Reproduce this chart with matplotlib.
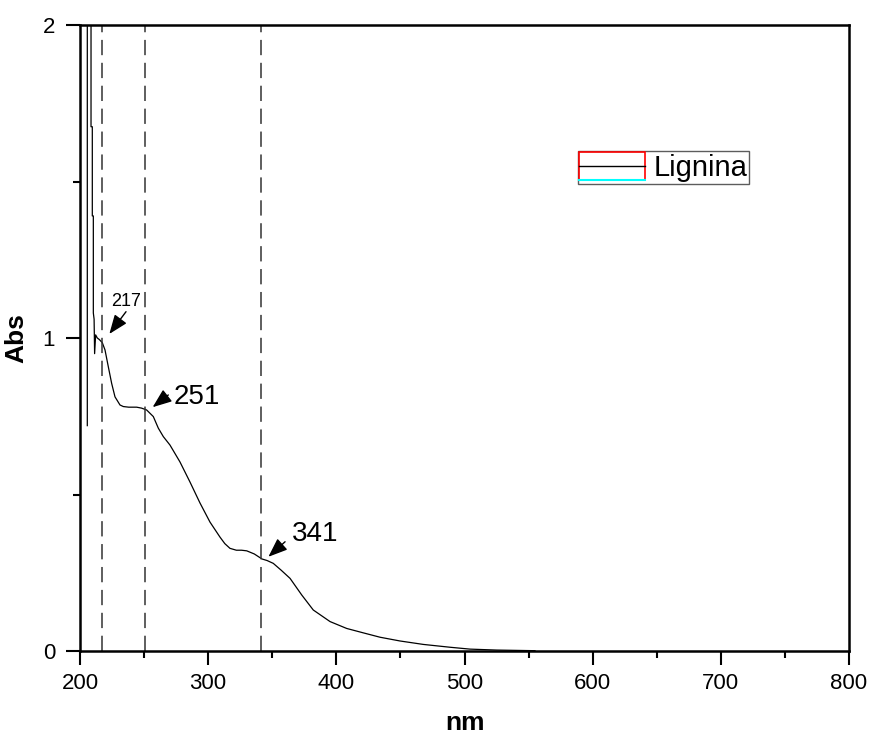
import matplotlib
matplotlib.use('Agg')
import matplotlib.pyplot as plt
from matplotlib.legend_handler import HandlerBase
from matplotlib.patches import Rectangle
from matplotlib.lines import Line2D
from matplotlib.ticker import MultipleLocator

plt.rcParams['font.family'] = ['Liberation Sans', 'DejaVu Sans']

# ---- data ----
wavelength = [205.7, 205.7, 208.6, 208.6, 209.6, 209.6, 210.4, 210.4, 211.0, 211.4,
              212.2, 213.5, 215.1, 217.4, 219.5, 222.1, 224.7, 227.3, 231.2, 233.8,
              238.0, 244.2, 248.0, 252.0, 257.2, 261.1, 265.0, 270.2, 278.0, 285.8,
              293.6, 301.4, 309.2, 313.0, 317.0, 322.0, 326.0, 330.1, 336.0, 342.0,
              346.0, 350.8, 357.0, 363.9, 373.0, 382.0, 395.1, 408.1, 421.0, 434.1,
              449.7, 467.9, 488.7, 504.3, 525.1, 540.0, 555.0]
absorbance = [0.72, 2.6, 2.6, 1.675, 1.675, 1.39, 1.39, 1.08, 1.06, 0.95,
              1.01, 1.0, 0.995, 0.985, 0.962, 0.908, 0.855, 0.812, 0.786, 0.781,
              0.779, 0.779, 0.776, 0.770, 0.749, 0.712, 0.685, 0.658, 0.604, 0.540,
              0.473, 0.412, 0.364, 0.343, 0.328, 0.322, 0.322, 0.320, 0.310, 0.294,
              0.289, 0.280, 0.258, 0.232, 0.179, 0.131, 0.094, 0.072, 0.058, 0.044,
              0.032, 0.021, 0.012, 0.006, 0.003, 0.002, 0.001]
series_name = 'Lignina'
peaks = [217, 251, 341]
peak_labels = ['217', '251', '341']
xticks = [200, 300, 400, 500, 600, 700, 800]
yticks = [0, 1, 2]

fig = plt.figure(figsize=(8.72, 7.38), dpi=100)
ax = fig.add_axes([80/872, 1-651/738, 769/872, 626/738])

line, = ax.plot(wavelength, absorbance, color='black', lw=0.9, label=series_name)

for p in peaks:
    ax.axvline(p, color='#333333', lw=1.1, dashes=(10, 5))

# annotations (text position, arrow start, arrow tip) in data coords
ann = [
    (peak_labels[0], (224.6, 1.117), (235.9, 1.084), (222.9, 1.013), 13),
    (peak_labels[1], (272.8, 0.811), (268.9, 0.818), (256.7, 0.779), 20),
    (peak_labels[2], (365.2, 0.374), (360.0, 0.349), (347.0, 0.301), 20),
]
for txt, tpos, a0, a1, fs in ann:
    ax.text(tpos[0], tpos[1], txt, fontsize=fs, ha='left', va='center')
    ax.annotate('', xy=a1, xytext=a0,
                arrowprops=dict(arrowstyle='-|>,head_length=0.9,head_width=0.35',
                                mutation_scale=13, color='black', lw=1.0,
                                shrinkA=0, shrinkB=0))

ax.set_xlim(200, 800)
ax.set_ylim(0, 2)
ax.set_xticks(xticks)
ax.set_yticks(yticks)
ax.xaxis.set_minor_locator(MultipleLocator(50))
ax.yaxis.set_minor_locator(MultipleLocator(0.5))
ax.tick_params(which='major', direction='out', length=10, width=1.5, labelsize=16)
ax.tick_params(which='minor', direction='out', length=5, width=1.5)
ax.tick_params(axis='x', pad=6)
ax.tick_params(axis='y', pad=8)
for s in ax.spines.values():
    s.set_linewidth(1.8)

ax.set_xlabel('nm', fontsize=19, fontweight='bold', labelpad=12)
ax.set_ylabel('Abs', fontsize=19, fontweight='bold', labelpad=10)


class OriginHandler(HandlerBase):
    def create_artists(self, legend, orig_handle, xdescent, ydescent, width, height,
                       fontsize, trans):
        rect = Rectangle((-xdescent, -ydescent), width, height, fill=False,
                         edgecolor='red', lw=1.2, transform=trans)
        mid = Line2D([-xdescent, -xdescent + width], [-ydescent + height/2]*2,
                     color='black', lw=1.0, transform=trans)
        bot = Line2D([-xdescent, -xdescent + width], [-ydescent]*2,
                     color='cyan', lw=1.5, transform=trans)
        return [rect, mid, bot]


leg = ax.legend([line], [series_name], handler_map={Line2D: OriginHandler()},
                loc='upper left', bbox_to_anchor=((578-80)/769, (651-151)/626),
                borderaxespad=0, fontsize=21, frameon=True, fancybox=False,
                edgecolor='#333333', handlelength=2.25, handleheight=1.1,
                handletextpad=0.3, borderpad=0.05)
leg.get_frame().set_linewidth(1.0)

fig.savefig('out.png', dpi=100)
